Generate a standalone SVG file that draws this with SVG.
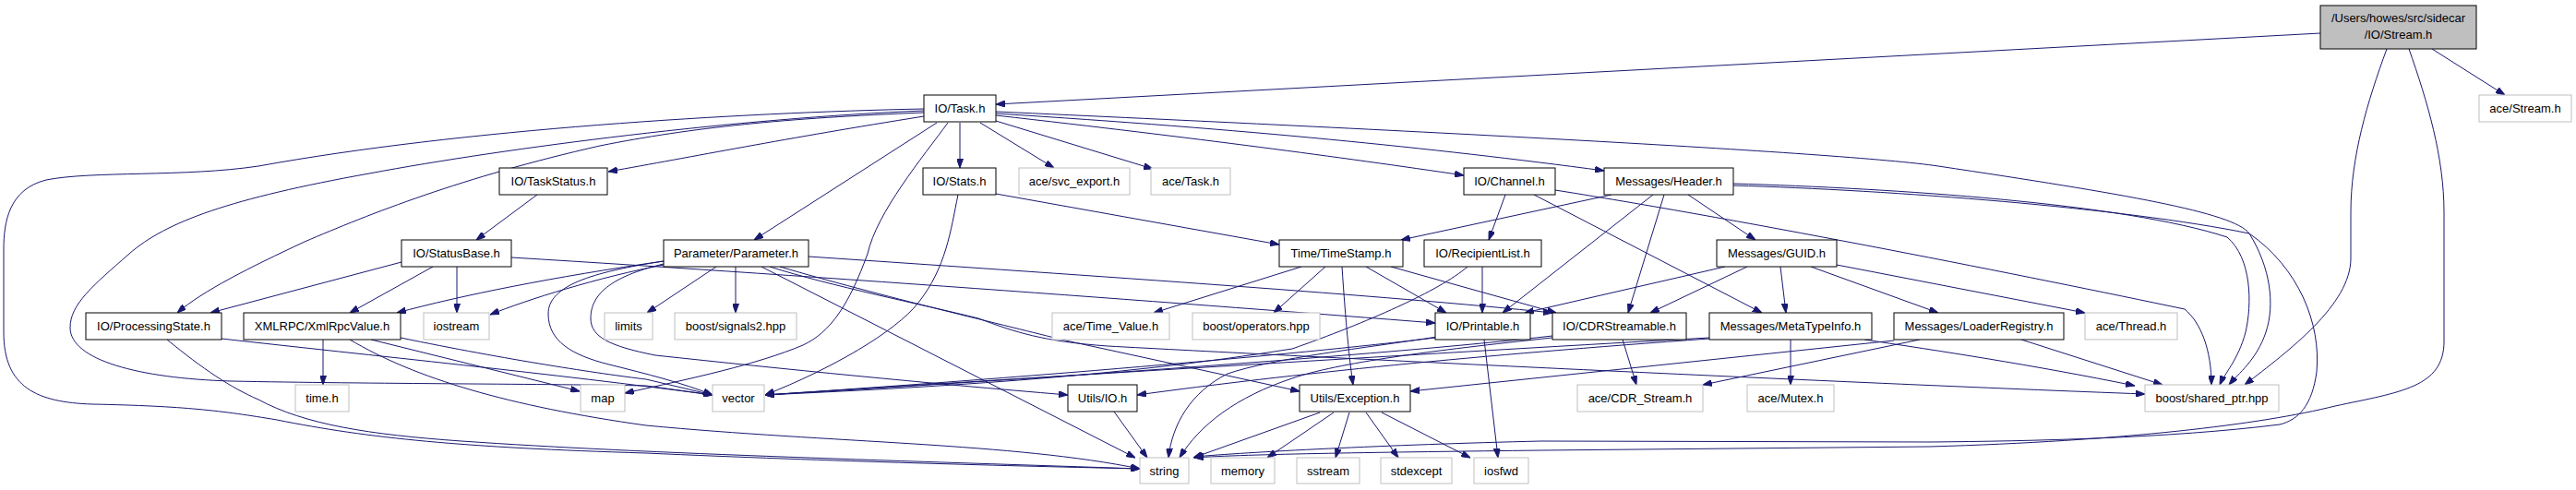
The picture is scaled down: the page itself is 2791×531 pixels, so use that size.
<svg xmlns="http://www.w3.org/2000/svg" width="2791" height="531" viewBox="0 0 2791 531">
<style>
.node rect{fill:#ffffff;stroke:#000000;stroke-width:1}
.ext rect{fill:#ffffff;stroke:#bfbfbf;stroke-width:1}
.root rect{fill:#bfbfbf;stroke:#000000;stroke-width:1}
text{font-family:"Liberation Sans",Arial,sans-serif;font-size:13px;text-anchor:middle;fill:#000000}
#edges path{fill:none;stroke:#191970;stroke-width:1;marker-end:url(#arr)}
</style>
<defs>
<marker id="arr" viewBox="0 0 10 7" refX="10" refY="3.5" markerWidth="10" markerHeight="7" orient="auto" markerUnits="userSpaceOnUse">
<path d="M0,0 L10,3.5 L0,7 z" fill="#191970" stroke="#191970"/>
</marker>
</defs>
<rect x="0" y="0" width="2791" height="531" fill="#ffffff"/>
<g id="edges">
<path d="M2514,36 L1079,113"/>
<path d="M2635,53 L2714,103"/>
<path d="M2586,53 C2565,110 2547,170 2547,230 L2547,280 C2547,330 2480,380 2432,417"/>
<path d="M2610,53 C2630,110 2648,170 2648,230 L2648,370 C2648,420 2600,425 2530,440 C2450,460 2300,478 2091,484 L1670,488 C1500,490 1350,492 1294,496"/>
<path d="M1878,201 C2050,206 2300,225 2437,253 C2490,290 2515,350 2510,403 C2505,440 2490,455 2470,460 C2350,475 2200,478 2091,479 L1670,478 C1500,482 1350,490 1294,495"/>
<path d="M1878,199 C2050,204 2300,220 2413,257 C2440,280 2440,330 2433,360 C2425,390 2410,405 2405,417"/>
<path d="M1079,121 C1500,140 2000,165 2100,180 C2300,210 2420,230 2437,253 C2460,290 2465,330 2455,360 C2445,390 2425,405 2415,417"/>
<path d="M1001,126 C850,150 750,170 659,186"/>
<path d="M1001,118 C800,122 500,140 280,180 C200,192 100,185 50,195 C10,205 4,240 4,270 L4,360 C4,420 40,436 100,438 C200,440 240,445 300,455 C400,475 500,485 700,491 C900,500 1100,505 1235,508"/>
<path d="M1001,120 C800,128 550,160 400,188 C250,215 180,240 140,275 C100,310 76,330 76,355 C76,390 150,410 250,413 C400,416 600,416 700,418 L772,428"/>
<path d="M1001,122 C850,128 750,138 650,158 C500,192 400,232 330,262 C270,290 220,315 192,339"/>
<path d="M1015,133 L817,260"/>
<path d="M1027,133 C1000,170 950,230 940,275 C920,330 900,360 870,374 C820,395 750,410 677,426"/>
<path d="M1040,133 L1040,182"/>
<path d="M1062,133 L1142,182"/>
<path d="M1079,131 L1249,183"/>
<path d="M1079,125 C1300,150 1450,170 1586,190"/>
<path d="M1079,123 C1350,140 1550,160 1738,185"/>
<path d="M1079,210 L1386,265"/>
<path d="M1038,211 C1030,250 1025,290 995,328 C970,360 900,400 829,428"/>
<path d="M582,211 L516,260"/>
<path d="M435,284 L228,339"/>
<path d="M469,289 L379,339"/>
<path d="M495,289 L495,339"/>
<path d="M554,279 C900,300 1300,330 1555,350"/>
<path d="M719,283 C600,300 500,320 430,339"/>
<path d="M719,287 C650,300 570,325 531,341"/>
<path d="M776,289 L701,339"/>
<path d="M797,289 L797,339"/>
<path d="M825,289 L1230,496"/>
<path d="M834,289 C900,310 1000,330 1060,345 C1100,360 1130,370 1200,375 C1400,386 2000,415 2324,427"/>
<path d="M845,289 C950,320 1100,355 1150,368 L1408,424"/>
<path d="M876,278 C1200,300 1500,320 1682,339"/>
<path d="M719,286 C660,300 640,320 640,345 C640,365 660,375 710,385 C850,400 1000,415 1157,428"/>
<path d="M719,283 C640,295 594,310 594,340 C594,370 620,385 660,395 C700,405 740,415 772,428"/>
<path d="M1410,289 L1250,339"/>
<path d="M1436,289 L1380,339"/>
<path d="M1454,289 C1458,350 1462,390 1466,417"/>
<path d="M1480,289 L1567,339"/>
<path d="M1507,289 L1686,339"/>
<path d="M1606,289 L1606,339"/>
<path d="M1590,289 C1560,315 1480,350 1400,378 C1200,410 1000,420 829,428"/>
<path d="M1631,211 L1613,260"/>
<path d="M1662,211 L1909,339"/>
<path d="M1685,206 C1900,240 2200,300 2367,335 C2385,350 2396,380 2396,417"/>
<path d="M1746,211 L1518,260"/>
<path d="M1791,211 L1628,339"/>
<path d="M1803,211 L1764,339"/>
<path d="M1829,211 L1902,260"/>
<path d="M1869,289 L1652,339"/>
<path d="M1893,289 L1788,339"/>
<path d="M1929,289 L1935,339"/>
<path d="M1962,289 L2100,339"/>
<path d="M1990,287 L2259,339"/>
<path d="M1608,368 L1623,496"/>
<path d="M1557,365 C1480,377 1380,388 1330,405 C1290,425 1270,460 1266,496"/>
<path d="M1555,366 C1400,385 1100,410 829,428"/>
<path d="M1758,368 L1773,417"/>
<path d="M1682,366 C1550,380 1450,393 1400,410 C1340,430 1300,460 1278,496"/>
<path d="M1682,364 C1500,385 1100,412 829,428"/>
<path d="M1940,368 L1940,417"/>
<path d="M1852,366 C1600,380 1100,410 829,428"/>
<path d="M1852,367 C1600,385 1400,405 1232,428"/>
<path d="M2020,368 C2100,380 2200,395 2313,418"/>
<path d="M2190,368 L2343,417"/>
<path d="M2080,368 L1845,417"/>
<path d="M2052,369 L1528,424"/>
<path d="M350,368 L350,417"/>
<path d="M402,368 L628,424"/>
<path d="M434,366 C550,390 650,405 700,411 L772,428"/>
<path d="M379,368 C450,410 550,440 700,461 C900,480 1100,480 1235,508"/>
<path d="M240,367 C400,385 600,405 772,428"/>
<path d="M181,368 C220,400 250,420 280,433 C330,460 400,471 500,478 C700,492 1000,500 1235,508"/>
<path d="M1207,446 L1243,496"/>
<path d="M1430,447 L1293,496"/>
<path d="M1445,447 L1373,496"/>
<path d="M1462,447 L1447,496"/>
<path d="M1480,447 L1515,496"/>
<path d="M1497,447 L1593,496"/>
</g>
<g id="n_stream" class="root"><rect x="2514" y="6" width="169" height="47"/><text x="2598.5" y="24">/Users/howes/src/sidecar</text><text x="2598.5" y="42">/IO/Stream.h</text></g>
<g id="n_ace_stream" class="ext"><rect x="2686" y="103" width="100" height="29"/><text x="2736" y="122">ace/Stream.h</text></g>
<g id="n_task" class="node"><rect x="1001" y="103" width="78" height="29"/><text x="1040" y="122">IO/Task.h</text></g>
<g id="n_taskstatus" class="node"><rect x="541" y="182" width="117" height="29"/><text x="599.5" y="201">IO/TaskStatus.h</text></g>
<g id="n_stats" class="node"><rect x="1000" y="182" width="79" height="29"/><text x="1039.5" y="201">IO/Stats.h</text></g>
<g id="n_svc_export" class="ext"><rect x="1104" y="182" width="120" height="29"/><text x="1164" y="201">ace/svc_export.h</text></g>
<g id="n_ace_task" class="ext"><rect x="1247" y="182" width="86" height="29"/><text x="1290" y="201">ace/Task.h</text></g>
<g id="n_channel" class="node"><rect x="1586" y="182" width="99" height="29"/><text x="1635.5" y="201">IO/Channel.h</text></g>
<g id="n_header" class="node"><rect x="1738" y="182" width="140" height="29"/><text x="1808" y="201">Messages/Header.h</text></g>
<g id="n_statusbase" class="node"><rect x="435" y="260" width="119" height="29"/><text x="494.5" y="279">IO/StatusBase.h</text></g>
<g id="n_parameter" class="node"><rect x="719" y="260" width="157" height="29"/><text x="797.5" y="279">Parameter/Parameter.h</text></g>
<g id="n_timestamp" class="node"><rect x="1386" y="260" width="134" height="29"/><text x="1453" y="279">Time/TimeStamp.h</text></g>
<g id="n_recipientlist" class="node"><rect x="1543" y="260" width="127" height="29"/><text x="1606.5" y="279">IO/RecipientList.h</text></g>
<g id="n_guid" class="node"><rect x="1860" y="260" width="130" height="29"/><text x="1925" y="279">Messages/GUID.h</text></g>
<g id="n_processingstate" class="node"><rect x="93" y="339" width="147" height="29"/><text x="166.5" y="358">IO/ProcessingState.h</text></g>
<g id="n_xmlrpcvalue" class="node"><rect x="264" y="339" width="170" height="29"/><text x="349" y="358">XMLRPC/XmlRpcValue.h</text></g>
<g id="n_iostream" class="ext"><rect x="459" y="339" width="71" height="29"/><text x="494.5" y="358">iostream</text></g>
<g id="n_limits" class="ext"><rect x="655" y="339" width="52" height="29"/><text x="681" y="358">limits</text></g>
<g id="n_signals2" class="ext"><rect x="731" y="339" width="132" height="29"/><text x="797" y="358">boost/signals2.hpp</text></g>
<g id="n_time_value" class="ext"><rect x="1140" y="339" width="127" height="29"/><text x="1203.5" y="358">ace/Time_Value.h</text></g>
<g id="n_operators" class="ext"><rect x="1292" y="339" width="138" height="29"/><text x="1361" y="358">boost/operators.hpp</text></g>
<g id="n_printable" class="node"><rect x="1555" y="339" width="103" height="29"/><text x="1606.5" y="358">IO/Printable.h</text></g>
<g id="n_cdrstreamable" class="node"><rect x="1682" y="339" width="145" height="29"/><text x="1754.5" y="358">IO/CDRStreamable.h</text></g>
<g id="n_metatypeinfo" class="node"><rect x="1852" y="339" width="176" height="29"/><text x="1940" y="358">Messages/MetaTypeInfo.h</text></g>
<g id="n_loaderregistry" class="node"><rect x="2052" y="339" width="184" height="29"/><text x="2144" y="358">Messages/LoaderRegistry.h</text></g>
<g id="n_thread" class="ext"><rect x="2259" y="339" width="100" height="29"/><text x="2309" y="358">ace/Thread.h</text></g>
<g id="n_time_h" class="ext"><rect x="320" y="417" width="58" height="29"/><text x="349" y="436">time.h</text></g>
<g id="n_map" class="ext"><rect x="629" y="417" width="48" height="29"/><text x="653" y="436">map</text></g>
<g id="n_vector" class="ext"><rect x="772" y="417" width="56" height="29"/><text x="800" y="436">vector</text></g>
<g id="n_utils_io" class="node"><rect x="1157" y="417" width="75" height="29"/><text x="1194.5" y="436">Utils/IO.h</text></g>
<g id="n_exception" class="node"><rect x="1408" y="417" width="120" height="29"/><text x="1468" y="436">Utils/Exception.h</text></g>
<g id="n_cdr_stream" class="ext"><rect x="1709" y="417" width="136" height="29"/><text x="1777" y="436">ace/CDR_Stream.h</text></g>
<g id="n_mutex" class="ext"><rect x="1893" y="417" width="94" height="29"/><text x="1940" y="436">ace/Mutex.h</text></g>
<g id="n_shared_ptr" class="ext"><rect x="2324" y="417" width="145" height="29"/><text x="2396.5" y="436">boost/shared_ptr.hpp</text></g>
<g id="n_string" class="ext"><rect x="1235" y="496" width="53" height="28"/><text x="1261.5" y="515">string</text></g>
<g id="n_memory" class="ext"><rect x="1312" y="496" width="69" height="28"/><text x="1346.5" y="515">memory</text></g>
<g id="n_sstream" class="ext"><rect x="1405" y="496" width="68" height="28"/><text x="1439" y="515">sstream</text></g>
<g id="n_stdexcept" class="ext"><rect x="1496" y="496" width="77" height="28"/><text x="1534.5" y="515">stdexcept</text></g>
<g id="n_iosfwd" class="ext"><rect x="1597" y="496" width="59" height="28"/><text x="1626.5" y="515">iosfwd</text></g>
</svg>
